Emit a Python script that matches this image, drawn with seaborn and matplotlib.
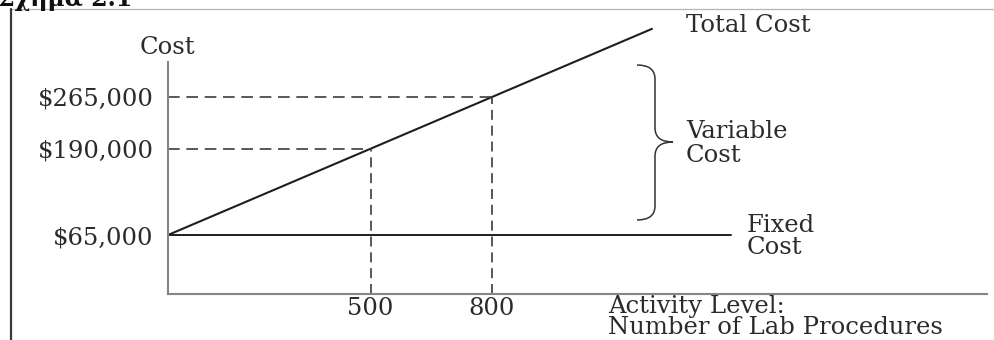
import numpy as np
import pandas as pd
import matplotlib
matplotlib.use('Agg')
import matplotlib.pyplot as plt
import matplotlib.transforms as mtransforms
from matplotlib.path import Path
from matplotlib.patches import PathPatch
from matplotlib.lines import Line2D
import seaborn as sns

# ------------------------------------------------------------
# 数据
# ------------------------------------------------------------
activity_levels = [0, 500, 800, 1195]          # 总成本线经过的活动量
total_cost = [65000, 190000, 265000, 363750]   # 对应总成本
fixed_activity = [0, 1390]
fixed_cost = [65000, 65000]
marked_levels = [500, 800]                     # 虚线标记的活动量
marked_costs = [190000, 265000]                # 对应成本
ytick_values = [65000, 190000, 265000]
ytick_labels = ['$65,000', '$190,000', '$265,000']
xtick_values = [500, 800]
xtick_labels = ['500', '800']

# ------------------------------------------------------------
# 版面：像素 <-> 数据 的换算
# ------------------------------------------------------------
W, H = 994, 340
X0_PX = 168              # 活动量 0 所在像素列
PX_PER_UNIT = 0.405
Y65_PX = 235             # $65,000 所在像素行
PX_PER_DOLLAR = 0.00069


def cost_at(py):
    return 65000 + (Y65_PX - py) / PX_PER_DOLLAR


def level_at(px):
    return (px - X0_PX) / PX_PER_UNIT


sns.set_theme(style='white')
plt.rcParams['font.family'] = ['DejaVu Serif']
plt.rcParams['text.color'] = '#2b2b2b'

fig = plt.figure(figsize=(W / 100, H / 100), dpi=100)
ax = fig.add_axes([0, 0, 1, 1])
ax.set_facecolor('white')
ax.set_xlim(level_at(0), level_at(W))
ax.set_ylim(cost_at(H), cost_at(0))

line_c = '#1e1e1e'
dash_c = '#3c3c3c'
axis_c = '#858585'
fs = 17.5

df_total = pd.DataFrame({'level': activity_levels, 'cost': total_cost})
df_fixed = pd.DataFrame({'level': fixed_activity, 'cost': fixed_cost})
sns.lineplot(data=df_total, x='level', y='cost', ax=ax, color=line_c, lw=1.5, sort=False)
sns.lineplot(data=df_fixed, x='level', y='cost', ax=ax, color=line_c, lw=1.4, sort=False)

# 虚线引导线
x_axis_cost = cost_at(294)
for lv, c in zip(marked_levels, marked_costs):
    ax.plot([0, lv], [c, c], color=dash_c, lw=1.2, dashes=(7, 4))
    ax.plot([lv, lv], [x_axis_cost, c], color=dash_c, lw=1.2, dashes=(6, 3.5))

# 坐标轴
for s in ['top', 'right']:
    ax.spines[s].set_visible(False)
ax.spines['left'].set_position(('data', 0))
ax.spines['bottom'].set_position(('data', x_axis_cost))
ax.spines['left'].set_bounds(x_axis_cost, cost_at(62))
ax.spines['bottom'].set_bounds(0, level_at(987))
for s in ['left', 'bottom']:
    ax.spines[s].set_color(axis_c)
    ax.spines[s].set_linewidth(1.5)

ax.set_yticks(ytick_values, ytick_labels)
ax.set_xticks(xtick_values, xtick_labels)
ax.tick_params(axis='y', length=0, pad=10.5, labelsize=fs, labelcolor='#2b2b2b')
ax.tick_params(axis='x', length=0, pad=2.5, labelsize=fs, labelcolor='#2b2b2b')
ax.set_xlabel('')
ax.set_ylabel('')

# 像素坐标变换（y 向下）
px = mtransforms.Affine2D().scale(1 / W, -1 / H).translate(0, 1) + fig.transFigure

# 文字标注
fig.text(167, 48, 'Cost', transform=px, ha='center', va='center', fontsize=fs)
fig.text(686, 25, 'Total Cost', transform=px, ha='left', va='center', fontsize=fs)
fig.text(686, 131, 'Variable', transform=px, ha='left', va='center', fontsize=fs)
fig.text(686, 155, 'Cost', transform=px, ha='left', va='center', fontsize=fs)
fig.text(747, 226, 'Fixed', transform=px, ha='left', va='center', fontsize=fs)
fig.text(747, 248, 'Cost', transform=px, ha='left', va='center', fontsize=fs)
fig.text(608, 306, 'Activity Level:', transform=px, ha='left', va='center', fontsize=fs)
fig.text(608, 327, 'Number of Lab Procedures', transform=px, ha='left', va='center', fontsize=fs)
fig.text(-2, 6, 'Σχήμα 2.1', transform=px, ha='left', va='baseline',
         fontsize=17, fontweight='bold', color='#111111')

# 大括号（可变成本）
x0, xm, xt = 637, 655, 673
yt, ym, yb, r = 65, 142, 220, 14
verts = [(x0, yt), (xm, yt), (xm, yt + r),
         (xm, ym - r),
         (xm, ym), (xt, ym),
         (xm, ym), (xm, ym + r),
         (xm, yb - r),
         (xm, yb), (x0, yb)]
codes = [Path.MOVETO, Path.CURVE3, Path.CURVE3,
         Path.LINETO,
         Path.CURVE3, Path.CURVE3,
         Path.CURVE3, Path.CURVE3,
         Path.LINETO,
         Path.CURVE3, Path.CURVE3]
fig.patches.append(PathPatch(Path(verts, codes), transform=px, fill=False,
                             edgecolor='#333333', lw=1.1))

# 外框线
fig.lines.append(Line2D([11, W], [9, 9], transform=px, color='#b5b5b5', lw=0.9))
fig.lines.append(Line2D([11, 11], [9, H], transform=px, color='#3a3a3a', lw=1.6))

fig.savefig('out.png', dpi=100, facecolor='white')
